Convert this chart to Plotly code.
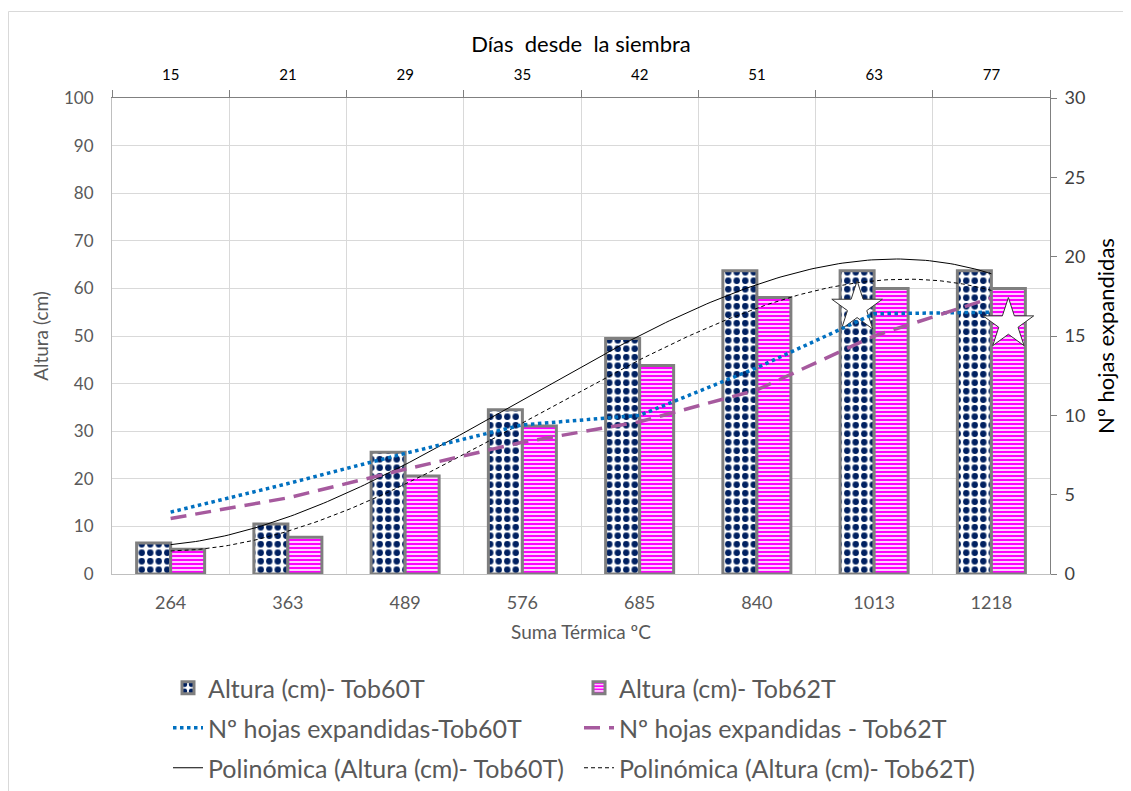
import numpy as np
import plotly.graph_objects as go

# ---------------- data ----------------
suma_termica = ["264", "363", "489", "576", "685", "840", "1013", "1218"]
dias_siembra = ["15", "21", "29", "35", "42", "51", "63", "77"]
altura_tob60 = [6.5, 10.5, 25.6, 34.5, 49.5, 63.7, 63.7, 63.7]
altura_tob62 = [5.2, 7.7, 20.6, 31.1, 43.8, 58.1, 60.0, 60.0]
hojas_tob60 = [3.9, 5.7, 7.6, 9.4, 10.0, 13.0, 16.4, 16.5]
hojas_tob62 = [3.5, 4.8, 6.6, 8.3, 9.6, 11.6, 15.0, 17.4]
# significance stars: (category index, which bar, height in cm)
star_cat = [6, 7]
star_bar = ["Tob60T", "Tob62T"]
star_y = [56.0, 52.5]

FONT = "Lato"
GRAY = "#595959"

idx = np.arange(len(suma_termica))
BARGAP = 0.42
bar_w = (1 - BARGAP) / 2

# polynomial trendlines (order 3), as in the spreadsheet, x = 1..n
def trend(vals, order=3):
    c = np.polyfit(idx + 1, vals, order)
    xs = np.linspace(0, len(vals) - 1, 200)
    return xs, np.polyval(c, xs + 1)

tx60, ty60 = trend(altura_tob60)
tx62, ty62 = trend(altura_tob62)

fig = go.Figure()

fig.add_trace(go.Bar(
    x=idx, y=altura_tob60, name="Altura (cm)- Tob60T", legend="legend",
    marker=dict(color="white", line=dict(color="#7F7F7F", width=3),
                pattern=dict(shape=".", fgcolor="#002060", bgcolor="white",
                             size=8.5, solidity=0.45, fillmode="replace", fgopacity=1)),
))
fig.add_trace(go.Bar(
    x=idx, y=altura_tob62, name="Altura (cm)- Tob62T", legend="legend",
    marker=dict(color="white", line=dict(color="#7F7F7F", width=3),
                pattern=dict(shape="-", fgcolor="#FF00FF", bgcolor="white",
                             size=4, solidity=0.6, fillmode="replace", fgopacity=1)),
))
fig.add_trace(go.Scatter(
    x=idx, y=hojas_tob60, yaxis="y2", mode="lines", name="Nº hojas expandidas-Tob60T",
    legend="legend2", line=dict(color="#0070C0", width=3.5, dash="dot"),
))
fig.add_trace(go.Scatter(
    x=idx, y=hojas_tob62, yaxis="y2", mode="lines", name="Nº hojas expandidas - Tob62T",
    legend="legend2", line=dict(color="#A65A9E", width=3.5, dash="16px,9px"),
))
fig.add_trace(go.Scatter(
    x=tx60, y=ty60, mode="lines", name="Polinómica (Altura (cm)- Tob60T)",
    legend="legend3", line=dict(color="black", width=1),
))
fig.add_trace(go.Scatter(
    x=tx62, y=ty62, mode="lines", name="Polinómica (Altura (cm)- Tob62T)",
    legend="legend3", line=dict(color="black", width=1, dash="4px,3px"),
))
# stars over bars
star_x = [c + (-bar_w / 2 if b == "Tob60T" else bar_w / 2) for c, b in zip(star_cat, star_bar)]
fig.add_trace(go.Scatter(
    x=star_x, y=star_y, mode="markers", showlegend=False,
    marker=dict(symbol="star", size=38, color="white", line=dict(color="#333333", width=1)),
))
# dummy trace for top axis
fig.add_trace(go.Scatter(x=idx, y=[None] * len(idx), xaxis="x2", showlegend=False,
                         hoverinfo="skip"))

boundaries = list(np.arange(-0.5, len(idx), 1.0))

W, H = 1123, 783
L, T, R, B = 104, 90, 81, 217
PW, PH = W - L - R, H - T - B

def px_to_paper_y(py):  # py measured in page pixels (figure offset 8px)
    return (T + PH - (py - 8)) / PH

def px_to_paper_x(px):
    return (px - 8 - L) / PW

leg_common = dict(orientation="h", xanchor="left", yanchor="middle",
                  entrywidth=366, font=dict(size=25, color=GRAY, family=FONT),
                  bgcolor="rgba(0,0,0,0)")

fig.update_layout(
    width=W, height=H,
    paper_bgcolor="white", plot_bgcolor="white",
    font=dict(family=FONT, color=GRAY, size=16),
    margin=dict(l=L, r=R, t=T, b=B, autoexpand=False),
    barmode="group", bargap=BARGAP, bargroupgap=0,
    xaxis=dict(
        range=[-0.5, len(idx) - 0.5], tickmode="array", tickvals=idx, ticktext=suma_termica,
        showgrid=False, zeroline=False, showline=True, linecolor="#BFBFBF", linewidth=1,
        ticks="", ticklabelstandoff=12, tickfont=dict(size=18, color=GRAY),
        minor=dict(tickmode="array", tickvals=boundaries, showgrid=True,
                   gridcolor="#D9D9D9", gridwidth=1, ticks=""),
        title=dict(text="Suma Térmica ºC", font=dict(size=19, color=GRAY), standoff=14),
    ),
    xaxis2=dict(
        overlaying="x", side="top", range=[-0.5, len(idx) - 0.5],
        tickmode="array", tickvals=idx, ticktext=dias_siembra,
        showgrid=False, zeroline=False, showline=True, linecolor="#808080", linewidth=1,
        ticks="", ticklabelstandoff=11, tickfont=dict(size=15, color="black"),
        minor=dict(tickmode="array", tickvals=boundaries, ticks="outside",
                   ticklen=7, tickcolor="#808080", showgrid=False),
        title=dict(text="Días  desde  la siembra", font=dict(size=22, color="black"), standoff=6),
    ),
    yaxis=dict(
        range=[0, 100], dtick=10, showgrid=True, gridcolor="#D9D9D9", gridwidth=1,
        zeroline=False, showline=True, linecolor="#BFBFBF", linewidth=1,
        ticks="", ticklabelstandoff=14, tickfont=dict(size=17, color=GRAY),
        title=dict(text="Altura (cm)", font=dict(size=19, color=GRAY), standoff=10),
    ),
    yaxis2=dict(
        overlaying="y", side="right", range=[0, 30], dtick=5, showgrid=False,
        zeroline=False, showline=True, linecolor="#808080", linewidth=1,
        ticks="outside", ticklen=6, tickcolor="#808080", ticklabelstandoff=4,
        tickfont=dict(size=18, color="#404040"),
        title=dict(text="Nº hojas expandidas", font=dict(size=22, color="black"), standoff=14),
    ),
    legend=dict(x=px_to_paper_x(168), y=px_to_paper_y(688), **leg_common),
    legend2=dict(x=px_to_paper_x(168), y=px_to_paper_y(728), **leg_common),
    legend3=dict(x=px_to_paper_x(168), y=px_to_paper_y(768), **leg_common),
    shapes=[dict(type="rect", xref="paper", yref="paper",
                 x0=px_to_paper_x(8.5), x1=px_to_paper_x(1150),
                 y0=px_to_paper_y(820), y1=px_to_paper_y(11.5),
                 line=dict(color="#D9D9D9", width=1), layer="below")],
)

fig.write_html("out.html")
